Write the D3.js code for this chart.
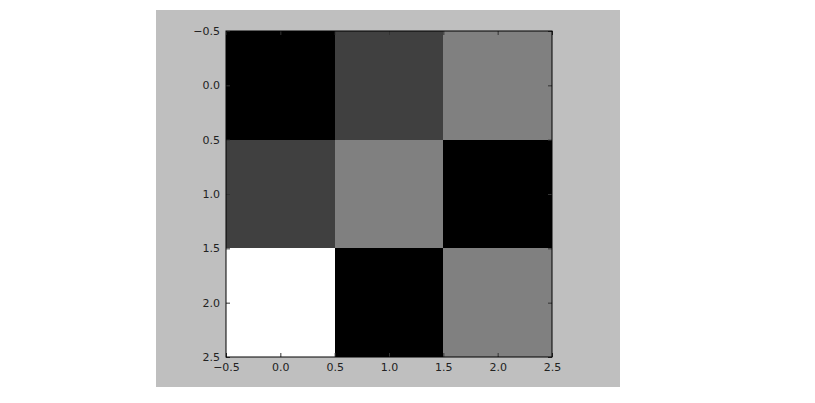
<!DOCTYPE html>
<html><head><meta charset="utf-8">
<script src="https://cdn.jsdelivr.net/npm/d3@7"></script>
<style>body{margin:0;background:#fff;} text{font-family:"DejaVu Sans",sans-serif;}</style>
</head><body><svg id="c" width="815" height="403"></svg>
<script>
const rows = [0, 1, 2];
const cols = [0, 1, 2];
const values = [
  [0, 1, 2],
  [1, 2, 0],
  [4, 0, 2]
];
const tickValues = [-0.5, 0.0, 0.5, 1.0, 1.5, 2.0, 2.5];

const svg = d3.select("#c");
svg.append("rect").attr("x",156).attr("y",10).attr("width",464).attr("height",377).attr("fill","#bfbfbf");

const x = d3.scaleLinear().domain([-0.5, 2.5]).range([226, 552]);
const y = d3.scaleLinear().domain([-0.5, 2.5]).range([31, 357]);
const color = d3.scaleLinear().domain([0, 4]).range(["#000000", "#ffffff"]);

const cells = [];
rows.forEach(r => cols.forEach(c => cells.push({r, c, v: values[r][c]})));
svg.append("g").selectAll("rect").data(cells).join("rect")
  .attr("x", d => x(d.c - 0.5)).attr("y", d => y(d.r - 0.5))
  .attr("width", d => x(d.c + 0.5) - x(d.c - 0.5))
  .attr("height", d => y(d.r + 0.5) - y(d.r - 0.5))
  .attr("fill", d => color(d.v)).attr("shape-rendering","crispEdges");

const fmt = d => (d < 0 ? "\u2212" : "") + Math.abs(d).toFixed(1);
const tl = 4;
const gb = svg.append("g").attr("transform","translate(0,357)")
  .call(d3.axisBottom(x).tickValues(tickValues).tickFormat(fmt).tickSizeInner(-tl).tickSizeOuter(0).tickPadding(6));
const gt = svg.append("g").attr("transform","translate(0,31)")
  .call(d3.axisTop(x).tickValues(tickValues).tickFormat("").tickSizeInner(-tl).tickSizeOuter(0));
const gl = svg.append("g").attr("transform","translate(226,0)")
  .call(d3.axisLeft(y).tickValues(tickValues).tickFormat(fmt).tickSizeInner(-tl).tickSizeOuter(0).tickPadding(6));
const gr = svg.append("g").attr("transform","translate(552,0)")
  .call(d3.axisRight(y).tickValues(tickValues).tickFormat("").tickSizeInner(-tl).tickSizeOuter(0));
[gb,gt,gl,gr].forEach(g => {
  g.select(".domain").remove();
  g.selectAll("line").attr("stroke","#333").attr("stroke-width",1);
  g.selectAll("text").attr("fill","#222").style("font-size","11px").style("font-family","DejaVu Sans");
});
svg.append("rect").attr("x",226).attr("y",31).attr("width",326).attr("height",326)
  .attr("fill","none").attr("stroke","#000").attr("stroke-width",1);
</script></body></html>
